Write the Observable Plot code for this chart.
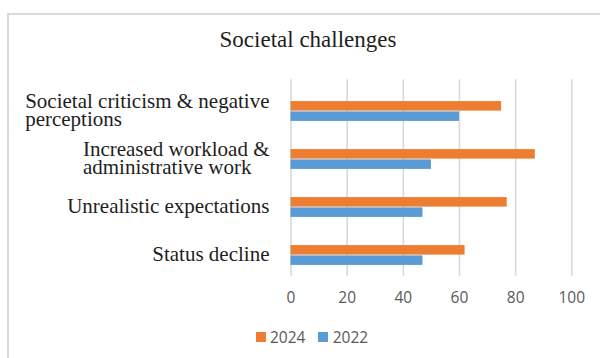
<!DOCTYPE html>
<html>
<head>
<meta charset="utf-8">
<script src="https://cdn.jsdelivr.net/npm/d3@7"></script>
<script src="https://cdn.jsdelivr.net/npm/@observablehq/plot@0.6"></script>
<style>
  html, body { margin: 0; padding: 0; background: #fff; }
  #wrap { position: relative; width: 600px; height: 358px; overflow: hidden; }
  #frame { position: absolute; left: 7px; top: 13px; width: 700px; height: 500px;
           border-left: 2px solid #d9d9d9; border-top: 2px solid #d9d9d9; }
  #title { position: absolute; left: 8px; top: 28px; width: 600px; text-align: center;
           font-family: "Liberation Serif", "Times New Roman", serif; font-size: 23px;
           line-height: 23px; color: #1e1e1e; }
  #chart { position: absolute; left: 0; top: 0; }
  #legend { position: absolute; left: 255.5px; top: 329px; display: flex; align-items: center;
            font-family: "Open Sans", sans-serif; font-size: 15.5px; line-height: 16px; color: #595959; }
  #legend .item { display: flex; align-items: center; margin-right: 12.8px; }
  #legend .sw { width: 10px; height: 10px; margin-right: 4.5px; }
</style>
</head>
<body>
<div id="wrap">
  <div id="frame"></div>
  <div id="chart"></div>
  <div id="title"></div>
  <div id="legend"></div>
</div>
<script>
// ---- data ----
const titleText = "Societal challenges";
const categories = [
  "Societal criticism & negative perceptions",
  "Increased workload & administrative work",
  "Unrealistic expectations",
  "Status decline"
];
const categoryLabels = [
  "Societal criticism & negative\nperceptions",
  "Increased workload &\nadministrative work",
  "Unrealistic expectations",
  "Status decline"
];
const values2024 = [75, 87, 77, 62];
const values2022 = [60, 50, 47, 47];
const seriesNames = ["2024", "2022"];
const xTicks = [0, 20, 40, 60, 80, 100];

// ---- styles ----
const colors = {"2024": "#ED7D31", "2022": "#5B9BD5"};
const serif = '"Liberation Serif", "Times New Roman", serif';

const rows = [];
categories.forEach((c, i) => {
  rows.push({category: c, series: "2024", value: values2024[i]});
  rows.push({category: c, series: "2022", value: values2022[i]});
});

// measure label widths (left-aligned lines in a right-aligned block)
const ctx = document.createElement("canvas").getContext("2d");
ctx.font = '21px "Liberation Serif"';
const blockRight = 269;
const W = 600, H = 358;
const mL = 290.5, mR = 600 - 571.3, mT = 79.3, mB = H - 275.7;
const bandStep = 48.77;
const yStart = 109.7 - bandStep / 2;
const barH = 10.3;
const inTop = bandStep / 2 - barH;

const labelMarks = categories.map((c, i) => {
  const lines = categoryLabels[i].split("\n");
  const w = Math.max(...lines.map(l => ctx.measureText(l).width));
  return Plot.text([c], {
    y: d => d,
    text: () => categoryLabels[i],
    frameAnchor: "left",
    textAnchor: "start",
    dx: (blockRight - mL) - w,
    lineHeight: 17.5 / 21,
    fontFamily: serif,
    fontSize: 21,
    fill: "#1e1e1e"
  });
});

const chart = Plot.plot({
  width: W,
  height: H,
  marginLeft: mL,
  marginRight: mR,
  marginTop: mT,
  marginBottom: mB,
  x: {domain: [0, 100], axis: null},
  y: {domain: categories, range: [yStart, yStart + bandStep * categories.length], padding: 0, axis: null},
  style: {background: "transparent", overflow: "visible"},
  marks: [
    Plot.ruleX(xTicks, {x: d => d, stroke: "#d9d9d9", strokeWidth: 1.6}),
    Plot.barX(rows.filter(d => d.series === "2024"), {
      x: "value", y: "category", fill: colors["2024"], insetTop: inTop, insetBottom: bandStep / 2
    }),
    Plot.barX(rows.filter(d => d.series === "2022"), {
      x: "value", y: "category", fill: colors["2022"], insetTop: bandStep / 2, insetBottom: inTop
    }),
    Plot.axisX(xTicks, {
      tickSize: 0, tickPadding: 16, label: null, color: "#595959",
      fontFamily: '"Open Sans", sans-serif', fontSize: 15.5
    }),
    ...labelMarks
  ]
});
document.getElementById("chart").appendChild(chart);
document.getElementById("title").textContent = titleText;

const legend = document.getElementById("legend");
seriesNames.forEach(s => {
  const item = document.createElement("div");
  item.className = "item";
  const sw = document.createElement("div");
  sw.className = "sw";
  sw.style.background = colors[s];
  const t = document.createElement("span");
  t.textContent = s;
  item.appendChild(sw);
  item.appendChild(t);
  legend.appendChild(item);
});
</script>
</body>
</html>
